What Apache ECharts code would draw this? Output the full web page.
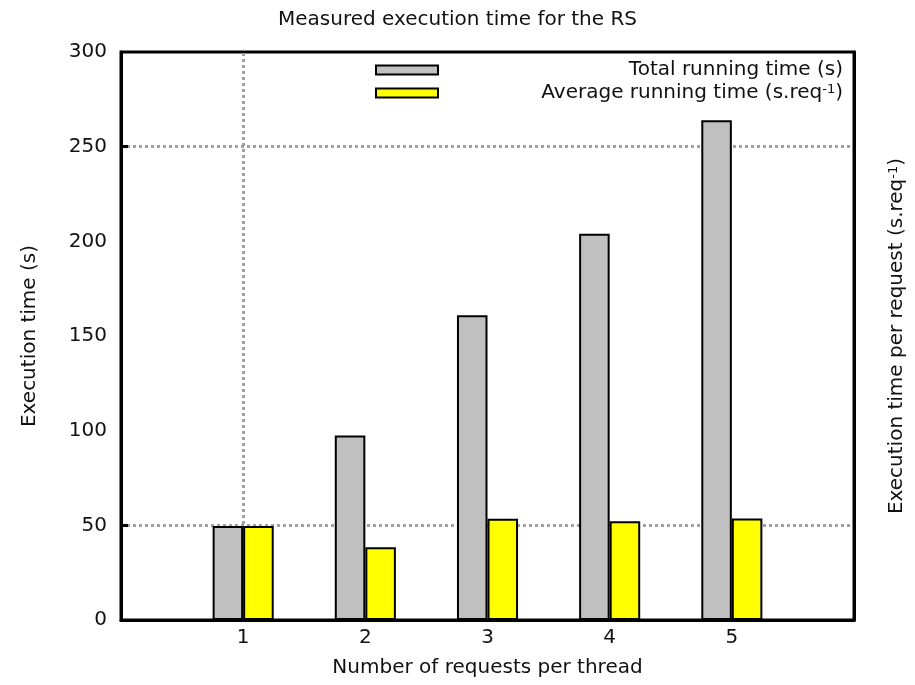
<!DOCTYPE html>
<html>
<head>
<meta charset="utf-8">
<script src="https://cdn.jsdelivr.net/npm/echarts@6/dist/echarts.min.js"></script>
<style>html,body{margin:0;padding:0;background:#fff;}#c{width:915px;height:685px;}</style>
</head>
<body>
<div id="c"></div>
<script>
const categories = ['1', '2', '3', '4', '5'];
const totalTime = [49.6, 97.5, 161, 204, 264];
const averageTime = [49.6, 38.4, 53.5, 52.1, 53.6];
const yTicks = [0, 50, 100, 150, 200, 250, 300];
const gridLinesY = [50, 250];
const gridLinesX = ['1'];

const FONT = 'DejaVu Sans';
const chart = echarts.init(document.getElementById('c'), null, {renderer: 'canvas'});
const xs = categories.map(Number);

chart.setOption({
  animation: false,
  backgroundColor: '#fff',
  title: {
    text: 'Measured execution time for the RS',
    left: 'center', top: 10,
    padding: [0, 0, 0, 63],
    textStyle: {fontFamily: FONT, fontSize: 20, fontWeight: 'normal', color: '#111'}
  },
  grid: {left: 121, right: 58, top: 52, bottom: 65, show: true, borderColor: '#000', borderWidth: 3, backgroundColor: 'transparent'},
  legend: {
    orient: 'vertical', left: 375, top: 60, padding: 0,
    icon: 'rect',
    itemWidth: 62, itemHeight: 9, itemGap: 3,
    formatter: function (name) {
      if (name.indexOf('Average') === 0) {
        return '{t|Average running time (s.req}{s|-1}{t|)}';
      }
      return '{t|' + name + '}';
    },
    textStyle: {
      width: 400, lineHeight: 20, fontFamily: FONT, fontSize: 20, color: '#111',
      rich: {
        t: {align: 'right', fontFamily: FONT, fontSize: 20, lineHeight: 20, color: '#111'},
        s: {align: 'right', fontFamily: FONT, fontSize: 13, lineHeight: 20, verticalAlign: 'top', color: '#111'}
      }
    },
    data: ['Total running time (s)', 'Average running time (s.req-1)']
  },
  xAxis: {
    type: 'value', min: 0, max: 6, interval: 1, z: 3,
    name: 'Number of requests per thread', nameLocation: 'middle', nameGap: 38,
    nameTextStyle: {fontFamily: FONT, fontSize: 20, color: '#111'},
    axisLine: {show: true, lineStyle: {color: '#000', width: 3}},
    axisTick: {show: false},
    splitLine: {show: false},
    axisLabel: {
      margin: 8, fontFamily: FONT, fontSize: 20, color: '#111',
      formatter: function (v) { return categories.indexOf(String(v)) >= 0 ? String(v) : ''; }
    }
  },
  yAxis: [{
    type: 'value', min: 0, max: 300, interval: 50, z: 3,
    name: 'Execution time (s)', nameLocation: 'middle', nameGap: 81, nameRotate: 90,
    nameTextStyle: {fontFamily: FONT, fontSize: 20, color: '#111'},
    axisLine: {show: true, lineStyle: {color: '#000', width: 3}},
    axisTick: {show: true, inside: true, length: 7, customValues: gridLinesY, lineStyle: {color: '#000', width: 3}},
    splitLine: {show: false},
    axisLabel: {margin: 14, fontFamily: FONT, fontSize: 20, color: '#111',
      customValues: yTicks}
  }, {
    type: 'value', min: 0, max: 300, interval: 50, position: 'right', z: 3,
    name: 'Execution time per request (s.req{sup|-1})', nameLocation: 'middle', nameGap: 33, nameRotate: 90,
    nameTextStyle: {fontFamily: FONT, fontSize: 20, color: '#111',
      rich: {sup: {fontFamily: FONT, fontSize: 13, verticalAlign: 'top', color: '#111'}}},
    axisLine: {show: true, lineStyle: {color: '#000', width: 3}},
    axisTick: {show: false},
    splitLine: {show: false},
    axisLabel: {show: false}
  }],
  series: [{
    name: 'grid', type: 'line', data: [], z: 1, silent: true,
    markLine: {
      silent: true, symbol: 'none', z: 1, animation: false,
      label: {show: false},
      lineStyle: {color: '#a0a0a0', type: [3, 3], width: 3},
      data: gridLinesY.map(v => ({yAxis: v})).concat(gridLinesX.map(v => ({xAxis: Number(v)})))
    }
  }, {
    name: 'Total running time (s)', type: 'bar', barWidth: '25%', barGap: '0%', z: 2,
    itemStyle: {color: '#c0c0c0', borderColor: '#000', borderWidth: 2},
    data: xs.map((x, i) => [x, totalTime[i]])
  }, {
    name: 'Average running time (s.req-1)', type: 'bar', barWidth: '25%', barGap: '0%', z: 2,
    itemStyle: {color: '#ffff00', borderColor: '#000', borderWidth: 2},
    data: xs.map((x, i) => [x, averageTime[i]])
  }]
});
</script>
</body>
</html>
